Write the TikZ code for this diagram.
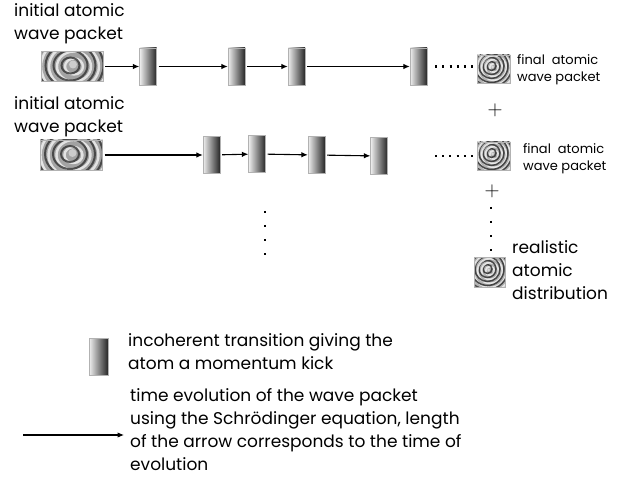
\documentclass[tikz,border=0pt]{standalone}
\usepackage{fontspec}
\setmainfont{Poppins}
\usetikzlibrary{arrows.meta,positioning}

\begin{document}
\begin{tikzpicture}[x=1pt, y=-1pt,
    kick/.style={rectangle, draw=gray!60, line width=0.3pt, left color=gray!12, right color=black!85, minimum width=17pt, minimum height=37pt, inner sep=0pt},
    initpacket/.style={rectangle, draw=gray!60, line width=0.3pt, inner sep=0pt, minimum width=62pt, minimum height=30pt, left color=gray!70, right color=gray!75,
        path picture={
            \fill[gray!40] ([shift={(1,-2)}]path picture bounding box.center) circle[radius=4];
            \foreach \r/\rx in {8/9,15/17,22/25,29/33}{
                \draw[white, line width=2.4pt, opacity=0.7] ([shift={(2,0)}]path picture bounding box.center) ellipse[x radius=\rx, y radius=\r];
                \draw[black!80, line width=2pt, opacity=0.8] ([shift={(-1.5,-1)}]path picture bounding box.center) ellipse[x radius=\rx, y radius=\r];
            }}},
    packet/.style={rectangle, draw=gray!60, line width=0.3pt, inner sep=0pt, minimum width=33pt, minimum height=28pt, left color=gray!60, right color=gray!65,
        path picture={
            \fill[white!70!gray] ([shift={(-1,-2)}]path picture bounding box.center) circle[radius=1.5];
            \foreach \r in {4.5,8.5,12.5,16.5,20.5}{
                \draw[white, line width=1.8pt, opacity=0.7] ([shift={(0.5,-1)}]path picture bounding box.center) circle[radius=\r];
                \draw[black!85, line width=1.5pt, opacity=0.8] ([shift={(-2,-3)}]path picture bounding box.center) circle[radius=\r];
            }}},
    evol/.style={line width=1.1pt, -{Latex[length=6.5pt,width=5.5pt]}, shorten <=2pt},
    hdots/.style={line width=2.2pt, dash pattern=on 2pt off 5.2pt},
    vdots/.style={line width=2.2pt, dash pattern=on 2.2pt off 11.8pt},
    plus/.style={inner sep=0pt, font=\fontsize{22}{22}\selectfont},
    big/.style={inner sep=0pt, align=left, anchor=north west, font=\fontsize{17}{23}\selectfont},
    small/.style={inner sep=0pt, align=left, anchor=north west, font=\fontsize{13}{17}\selectfont}
]
\useasboundingbox (0,0) rectangle (627,492);

% first run
\node[big] (start1txt) at (14,3) {initial atomic\\wave packet};
\node[initpacket] (start1) at (72,66.5) {};
\node[kick] (k1) at (148,66.5) {};
\node[kick] (k2) at (236.5,66.5) {};
\node[kick] (k3) at (296.5,66.5) {};
\node[kick] (k4) at (418.5,66.5) {};
\node[packet] (end1) at (493.5,69) {};
\node[small] (end1txt) at (517,54) {final\ \ atomic\\wave packet};
\draw[evol] (start1) -- (k1);
\draw[evol] (k1) -- (k2);
\draw[evol] (k2) -- (k3);
\draw[evol] (k3) -- (k4);
\draw[hdots, shorten <=8pt, shorten >=3pt] (k4.east) -- (k4.east -| end1.west);
\node[plus] (plus1) at (495,110) {$+$};

% second run
\node[big] (start2txt) at (14,96) {initial atomic\\wave packet};
\node[initpacket] (start2) at (71.5,155) {};
\node[kick] (ka) at (211.5,155) {};
\node[kick] (kb) at (257,154) {};
\node[kick] (kc) at (316.5,155) {};
\node[kick] (kd) at (379,156) {};
\node[packet] (end2) at (493.5,156) {};
\node[small] (end2txt) at (523,143) {final\ \ atomic\\wave packet};
\draw[evol] (start2) -- (ka);
\draw[evol] (ka) -- (kb);
\draw[evol] (kb) -- (kc);
\draw[evol] (kc) -- (kd);
\draw[hdots, shorten >=3pt] (kd.east -| 435,0) -- (kd.east -| end2.west);
\node[plus] (plus2) at (492,191) {$+$};

% more runs and the sum
\coordinate (more1) at (265,211);
\coordinate (more2) at (265,256);
\draw[vdots] (more1) -- (more2);
\node[packet, minimum width=31pt, minimum height=30pt] (real) at (489.5,272) {};
\coordinate (sum) at (491,207);
\draw[vdots] (sum) -- (sum |- real.north);
\node[big] (realtxt) at (512,240) {realistic\\atomic\\distribution};

% legend
\node[kick, minimum width=19pt] (legkick) at (98.5,356.5) {};
\node[big] (legkicktxt) at (128,333) {incoherent transition giving the\\atom a momentum kick};
\coordinate (legarrow) at (23,435);
\node[big] (legevoltxt) at (130,388) {time evolution of the wave packet\\using the Schrödinger equation, length\\of the arrow corresponds to the time of\\evolution};
\draw[evol, shorten <=0pt, shorten >=6pt] (legarrow) -- (legarrow -| legevoltxt.west);
\end{tikzpicture}
\end{document}
